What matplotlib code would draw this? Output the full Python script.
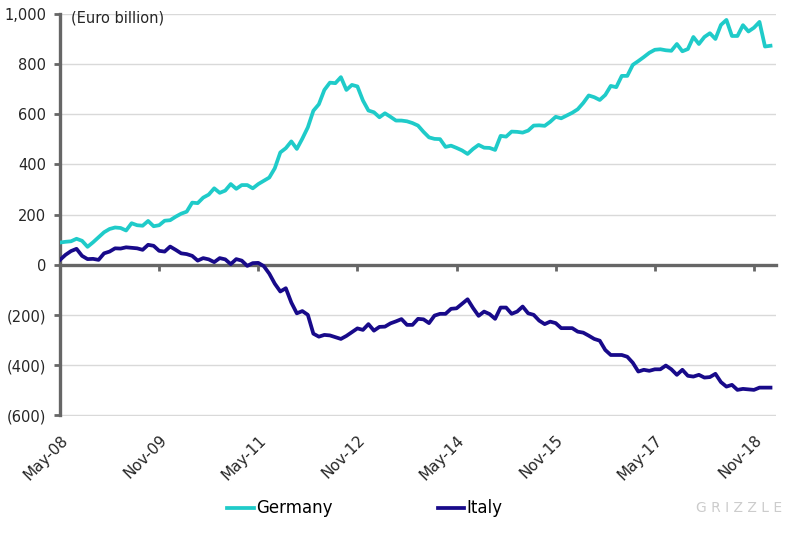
import numpy as np
import matplotlib
matplotlib.use('Agg')
import matplotlib.pyplot as plt

# monthly balances, May-08 .. Feb-19 (Euro billion)
germany = [89, 92, 94, 104, 96, 72, 90, 110, 130, 143, 149, 147, 137, 166, 158, 156, 175, 154, 158, 176,
           178, 192, 204, 212, 248, 246, 268, 280, 305, 287, 296, 322, 303, 318, 318, 305, 322, 335, 348, 385,
           448, 465, 492, 462, 503, 548, 614, 640, 697, 726, 724, 748, 697, 717, 711, 655, 615, 608, 588, 604,
           590, 575, 575, 572, 565, 555, 530, 508, 502, 501, 470, 475, 466, 456, 442, 462, 478, 467, 466, 458,
           514, 511, 531, 530, 527, 535, 555, 556, 554, 570, 590, 584, 595, 606, 620, 645, 675, 668, 657, 677,
           713, 708, 753, 753, 797, 812, 828, 845, 857, 859, 855, 853, 880, 851, 860, 908, 880, 908, 923, 900,
           956, 976, 912, 912, 955, 930, 945, 968, 870, 873]
italy = [20, 40, 55, 64, 36, 23, 24, 20, 46, 53, 66, 65, 70, 68, 66, 60, 80, 76, 56, 53,
         73, 60, 46, 43, 36, 17, 27, 22, 11, 27, 22, 3, 23, 17, -4, 7, 8, -5, -35, -75,
         -106, -93, -150, -193, -184, -199, -274, -286, -279, -281, -288, -295, -283, -268, -253, -259, -236, -262, -247, -246,
         -233, -225, -216, -239, -239, -215, -217, -232, -202, -195, -195, -175, -173, -155, -137, -172, -203, -186, -196, -215,
         -170, -170, -195, -186, -166, -193, -199, -222, -236, -226, -232, -252, -252, -252, -266, -270, -282, -295, -302, -339,
         -359, -359, -359, -366, -390, -425, -418, -422, -416, -416, -401, -416, -438, -418, -442, -445, -438, -449, -447, -434,
         -467, -485, -478, -498, -494, -496, -498, -489, -489, -489]

tick_pos = [0, 18, 36, 54, 72, 90, 108, 126]
tick_labels = ['May-08', 'Nov-09', 'May-11', 'Nov-12', 'May-14', 'Nov-15', 'May-17', 'Nov-18']
yticks = [-600, -400, -200, 0, 200, 400, 600, 800, 1000]
ylabels = ['(600)', '(400)', '(200)', '0', '200', '400', '600', '800', '1,000']

plt.rcParams['font.family'] = ['DejaVu Sans']
txt = '#262626'
spine_c = '#666666'

fig = plt.figure(figsize=(8, 5.34), dpi=100)
ax = fig.add_axes([0.075, 0.221, 0.895, 0.753])

x = np.arange(len(germany))
ax.plot(x, germany, color='#1fcbc9', linewidth=2.7, label='Germany', solid_joinstyle='round', zorder=3)
ax.plot(x, italy, color='#180a8a', linewidth=2.7, label='Italy', solid_joinstyle='round', zorder=3)

ax.set_xlim(0, 130)
ax.set_ylim(-602, 1000)
ax.set_yticks(yticks)
ax.set_yticklabels(ylabels, fontsize=10.5, color=txt)
ax.yaxis.grid(True, color='#d9d9d9', linewidth=1)
ax.set_axisbelow(True)

for s in ['top', 'right']:
    ax.spines[s].set_visible(False)
ax.spines['left'].set_color(spine_c)
ax.spines['left'].set_linewidth(2.4)
ax.spines['left'].set_bounds(-600, 1000)
ax.spines['bottom'].set_position(('data', 0))
ax.spines['bottom'].set_color(spine_c)
ax.spines['bottom'].set_linewidth(2.4)
ax.spines['bottom'].set_zorder(2)

ax.set_xticks(tick_pos)
ax.tick_params(axis='x', length=4, width=2, color=spine_c, labelbottom=False)
ax.tick_params(axis='y', length=4, width=2, color=spine_c, pad=6)

sec = ax.secondary_xaxis('bottom')
sec.set_xticks(tick_pos)
sec.set_xticklabels(tick_labels, rotation=45, ha='right', rotation_mode='anchor', fontsize=11, color=txt)
sec.tick_params(length=0, pad=12)
sec.spines['bottom'].set_visible(False)

ax.text(0.016, 0.99, '(Euro billion)', transform=ax.transAxes, fontsize=10.5, color=txt, va='center', ha='left')

fig.legend(loc='center', bbox_to_anchor=(0.456, 0.048), ncol=2, frameon=False, fontsize=12,
           handlelength=1.6, handletextpad=0.15, columnspacing=6.3)

fig.text(0.87, 0.048, 'G R I Z Z L E', fontsize=10, color='#cccccc', ha='left', va='center')

fig.savefig('out.png', dpi=100)
